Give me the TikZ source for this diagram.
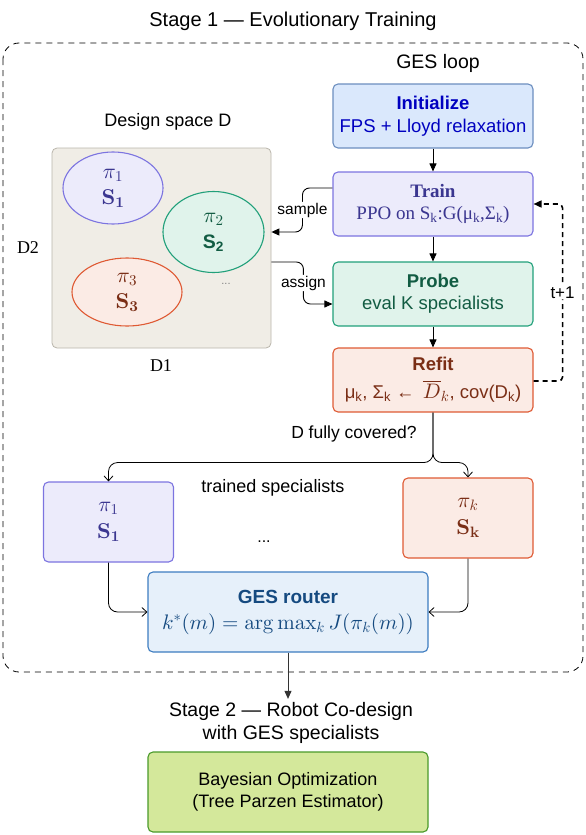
\documentclass[tikz,border=0pt]{standalone}
\usepackage{fix-cm}
\usepackage{amsmath}
\usepackage[no-math]{fontspec}
\setmainfont{Liberation Sans}
\newfontfamily\serifrm{Liberation Serif}
\DeclareFontShape{OML}{cmm}{m}{it}{<->cmmi10}{}
\DeclareFontShape{OT1}{cmr}{m}{n}{<->cmr10}{}
\DeclareFontShape{OT1}{cmr}{bx}{n}{<->cmbx10}{}
\DeclareFontShape{OMS}{cmsy}{m}{n}{<->cmsy10}{}
\usetikzlibrary{calc,positioning,arrows.meta,shapes.geometric}

\definecolor{purfill}{HTML}{ECEBFB}
\definecolor{purline}{HTML}{7C74E0}
\definecolor{purtext}{HTML}{3B3690}
\definecolor{grnfill}{HTML}{E0F3EB}
\definecolor{grnline}{HTML}{21A07A}
\definecolor{grntext}{HTML}{125C43}
\definecolor{orgfill}{HTML}{FBEBE5}
\definecolor{orgline}{HTML}{DF5A34}
\definecolor{orgtext}{HTML}{7A2E16}
\definecolor{inifill}{HTML}{DAE8FC}
\definecolor{iniline}{HTML}{6C8EBF}
\definecolor{initext}{HTML}{0000C0}
\definecolor{rtrfill}{HTML}{E6F0FA}
\definecolor{rtrline}{HTML}{3D7CC0}
\definecolor{rtrtext}{HTML}{154A80}
\definecolor{bofill}{HTML}{D4E89B}
\definecolor{boline}{HTML}{4A9A2A}
\definecolor{panelfill}{HTML}{F0EDE6}
\definecolor{panelline}{HTML}{B9B5AB}

\newcommand{\fsz}[2]{\fontsize{#1}{#2}\selectfont}
\newcommand{\mathsz}[1]{{\fsz{21}{28}$#1$}}

\tikzset{
    stepbox/.style={draw, rounded corners=5pt, line width=1.1pt, minimum width=200pt,
        minimum height=64pt, align=center, font=\fsz{18.5}{23}},
    specbox/.style={stepbox, minimum width=130pt, minimum height=80pt, font=\fsz{21.5}{27}},
    wide/.style={stepbox, minimum width=280pt, minimum height=80pt},
    blob/.style={ellipse, draw, line width=1.1pt, inner sep=0pt, align=center, font=\fsz{21.5}{26}},
    lbl/.style={fill=white, inner sep=1pt, font=\fsz{15.5}{18}},
    plain/.style={font=\fsz{18}{22}},
    flow/.style={-{Triangle[length=8pt,width=7pt]}, line width=0.9pt},
    open/.style={-{Straight Barb[length=5pt,width=9pt]}, line width=0.8pt}
}

\begin{document}
\begin{tikzpicture}[x=1pt,y=-1pt]
    \useasboundingbox (0,0) rectangle (586,835);
    \node[font=\fsz{20}{24}] (stage1) at (293,21) {Stage 1 — Evolutionary Training};
    \draw[line width=0.8pt, dash pattern=on 6pt off 5pt, rounded corners=16pt] (3,43) rectangle (583,672);
    \node[font=\fsz{19.5}{24}] (gesloop) at (438,63) {GES loop};

    \node[stepbox, fill=inifill, draw=iniline, text=initext] (init) at (433,116)
        {\textbf{Initialize}\\FPS + Lloyd relaxation};
    \node[stepbox, fill=purfill, draw=purline, text=purtext, font=\fsz{19}{22}\serifrm] (train) at (433,204)
        {\textbf{Train}\\PPO on S$_{\text{k}}$:G(μ$_{\text{k}}$,Σ$_{\text{k}}$)};
    \node[stepbox, fill=grnfill, draw=grnline, text=grntext, font=\fsz{18.5}{22}] (probe) at (433,294)
        {\textbf{Probe}\\eval K specialists};
    \node[stepbox, fill=orgfill, draw=orgline, text=orgtext, font=\fsz{18.5}{28}] (refit) at (433,380)
        {\textbf{Refit}\\μ$_{\text{k}}$, Σ$_{\text{k}}$ ←\ \,\mathsz{\overline{D}_k}, cov(D$_{\text{k}}$)};

    \node[plain] (dspace) at (168,122) {Design space D};
    \node[draw=panelline, fill=panelfill, rounded corners=5pt, line width=0.8pt,
        minimum width=219pt, minimum height=200pt] (panel) at (161.5,248) {};
    \node[blob, fill=purfill, draw=purline, text=purtext, minimum width=100pt, minimum height=72pt] (ell1)
        at (113,188) {$\pi_1$\\$\mathbf{S_1}$};
    \node[blob, fill=grnfill, draw=grnline, text=grntext, minimum width=101pt, minimum height=81pt] (ell2)
        at (213.5,232) {$\pi_2$\\{\fsz{19.5}{26}\textbf{S}$_{\textbf{2}}$}};
    \node[blob, fill=orgfill, draw=orgline, text=orgtext, minimum width=110pt, minimum height=68pt] (ell3)
        at (127,292) {$\pi_3$\\$\mathbf{S_3}$};
    \node[text=gray, font=\fsz{11}{13}] (moredots) at (226,284) {...};
    \node[plain, font=\fsz{18}{22}\serifrm] (dtwo) at (28,248) {D2};
    \node[plain, font=\fsz{18}{22}\serifrm] (done) at (161,366) {D1};

    \draw[flow] (init) -- (train);
    \draw[flow] (train) -- (probe);
    \draw[flow] (probe) -- (refit);
    \draw[flow, rounded corners=7pt] ($(train.west)+(0,-16)$) -- ++(-30,0)
        |- node[pos=.25, lbl] {sample} (panel.east |- ell2.center);
    \draw[flow, rounded corners=7pt] ($(panel.east)+(0,14)$) -- ++(32,0)
        |- node[pos=.25, lbl] {assign} ($(probe.west)+(0,10)$);
    \draw[flow, line width=1.6pt, dash pattern=on 5pt off 4pt, rounded corners=4pt]
        ($(refit.east)+(0,1)$) -- ++(29,0) |- node[pos=.25, lbl, font=\fsz{17}{20}] {t+1} (train.east);

    \node[plain, font=\fsz{17.5}{21}] (covered) at (354,434) {D fully covered?};
    \node[specbox, fill=purfill, draw=purline, text=purtext] (spec1) at (108.5,522) {$\pi_1$\\$\mathbf{S_1}$};
    \node[specbox, fill=orgfill, draw=orgline, text=orgtext] (speck) at (468,518) {$\pi_k$\\$\mathbf{S_k}$};
    \node[plain] (trained) at (273,488) {trained specialists};
    \node[plain, font=\fsz{16}{20}] (dots) at (264,542) {...};
    \draw[open, rounded corners=9pt] (refit.south) -- ++(0,50) -| (spec1.north);
    \draw[open, rounded corners=9pt] (refit.south) -- ++(0,50) -| (speck.north);

    \node[wide, fill=rtrfill, draw=rtrline, text=rtrtext, font=\fsz{19}{26}] (router) at (288,612)
        {\textbf{GES router}\\{\fsz{21}{26}$k^*(m)=\arg\max_k J(\pi_k(m))$}};
    \draw[open, rounded corners=9pt] (spec1.south) |- (router.west);
    \draw[open, rounded corners=9pt] (speck.south) |- (router.east);

    \node[align=center, font=\fsz{19.5}{23}] (stage2) at (291,723) {Stage 2 — Robot Co-design\\with GES specialists};
    \draw[flow, draw=black!80, fill=black!80] (router.south) -- (router.south |- stage2.north);
    \node[wide, fill=bofill, draw=boline, font=\fsz{18}{22}] (bayes) at (288,792)
        {Bayesian Optimization\\(Tree Parzen Estimator)};
\end{tikzpicture}
\end{document}
